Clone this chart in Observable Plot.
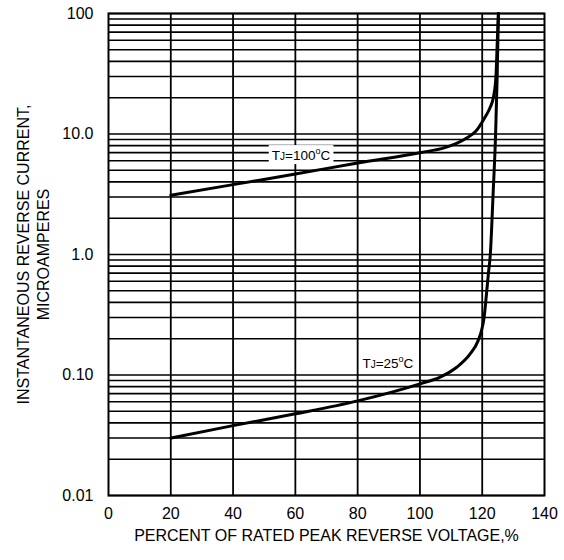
<!DOCTYPE html>
<html><head><meta charset="utf-8">
<script src="https://cdn.jsdelivr.net/npm/d3@7"></script>
<script src="https://cdn.jsdelivr.net/npm/@observablehq/plot@0.6"></script>
<style>body{margin:0;background:#fff}</style>
</head><body><div id="chart"></div>
<script>
// tick values and labels
const xTicks = [0, 20, 40, 60, 80, 100, 120, 140];
const xGrid = [20, 40, 60, 80, 100, 120];
const yTicks = [0.01, 0.1, 1, 10, 100];
const yTickLabels = ["0.01", "0.10", "1.0", "10.0", "100"];
const decades = [0.01, 0.1, 1, 10];
const multipliers = [1, 2, 3, 4, 5, 6, 7, 8, 9];

// TJ = 100°C curve
const t100x = [20, 40, 60, 80, 100, 108, 114.5, 118, 120.9, 122.5, 123.6, 124.4, 124.8, 125.2];
const t100y = [3.1, 3.8, 4.65, 5.75, 7.0, 7.7, 9.1, 10.6, 13.8, 16.5, 20.2, 29.6, 55, 100];
// TJ = 25°C curve
const t25x = [20, 40, 60, 80, 100, 106.5, 111.8, 116, 118.7, 119.8, 120.6, 121.4, 122, 122.6, 123.5, 124.3, 124.8, 125.2];
const t25y = [0.030, 0.038, 0.0476, 0.061, 0.0845, 0.096, 0.116, 0.148, 0.193, 0.235, 0.30, 0.48, 0.7, 1.0, 3.2, 10, 30, 100];

const curveLabels = [
  {x: 61.8, y: 6.6, temp: "100"},
  {x: 89.7, y: 0.124, temp: "25"}
];

const yGrid = decades.flatMap(d => multipliers.map(m => d * m)).concat([100]);
const t100 = t100x.map((x, i) => ({x, y: t100y[i]}));
const t25 = t25x.map((x, i) => ({x, y: t25y[i]}));

const chart = Plot.plot({
  width: 564, height: 560,
  marginLeft: 108, marginRight: 20, marginTop: 13, marginBottom: 65,
  style: {fontFamily: "'Liberation Sans', Arial, sans-serif", fontSize: "16px", background: "white", color: "black"},
  x: {domain: [0, 140]},
  y: {type: "log", domain: [0.01, 100]},
  marks: [
    Plot.ruleY(yGrid, {stroke: "black", strokeWidth: 1.7}),
    Plot.ruleX(xGrid, {stroke: "black", strokeWidth: 1.8}),
    Plot.frame({stroke: "black", strokeWidth: 2}),
    Plot.axisX({ticks: xTicks, tickSize: 0, tickPadding: 12, fontSize: 16, label: null}),
    Plot.axisY({ticks: yTicks, tickFormat: d => yTickLabels[yTicks.indexOf(d)], tickSize: 0, tickPadding: 15, fontSize: 16, label: null}),
    Plot.line(t100, {x: "x", y: "y", curve: "monotone-x", stroke: "black", strokeWidth: 3}),
    Plot.line(t25, {x: "x", y: "y", curve: "monotone-x", stroke: "black", strokeWidth: 3}),
    Plot.text(curveLabels, {x: "x", y: "y", text: d => "TJ=" + d.temp + "°C", fontSize: 13.5, fill: "black"}),
    Plot.text(["PERCENT OF RATED PEAK REVERSE VOLTAGE,%"], {frameAnchor: "bottom", dy: 40, textAnchor: "middle", lineAnchor: "middle", fontSize: 16, fill: "black"}),
    Plot.text(["INSTANTANEOUS REVERSE CURRENT,"], {frameAnchor: "left", rotate: -90, dx: -85, textAnchor: "middle", lineAnchor: "middle", fontSize: 16, fill: "black"}),
    Plot.text(["MICROAMPERES"], {frameAnchor: "left", rotate: -90, dx: -65, textAnchor: "middle", lineAnchor: "middle", fontSize: 16, fill: "black"})
  ]
});
document.getElementById("chart").appendChild(chart);

// style the curve labels: small J, superscript degree, white box behind
d3.select(chart).selectAll("text").filter(function() {
  return /^TJ=\d+°C$/.test(this.textContent);
}).each(function() {
  const el = d3.select(this);
  const temp = this.textContent.match(/=(\d+)/)[1];
  el.text(null);
  el.append("tspan").text("T");
  el.append("tspan").attr("font-size", 10).text("J");
  el.append("tspan").text("=" + temp);
  el.append("tspan").attr("font-size", 9).attr("dy", -6).text("o");
  el.append("tspan").attr("dy", 6).text("C");
  const bb = this.getBBox();
  const tr = el.attr("transform");
  const r = d3.select(this.parentNode).insert("rect", () => this)
    .attr("x", bb.x - 3).attr("y", bb.y - 1)
    .attr("width", bb.width + 6).attr("height", bb.height + 2)
    .attr("fill", "white").attr("stroke", "none");
  if (tr) r.attr("transform", tr);
  if (el.attr("x") == null && !tr) {}
});
</script>
</body></html>
